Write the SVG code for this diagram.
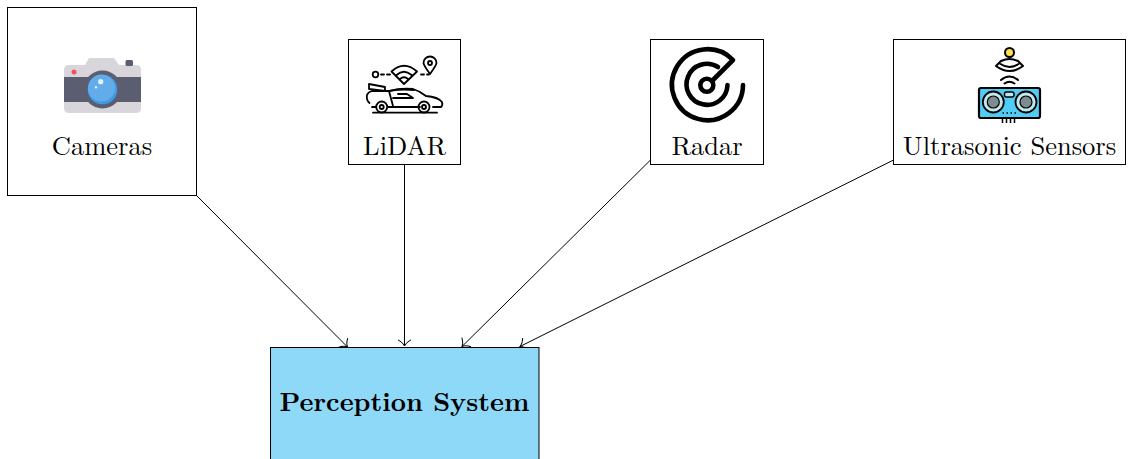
<svg xmlns="http://www.w3.org/2000/svg" width="1130" height="459" viewBox="0 0 1130 459">
<style>
.box{fill:#fff;stroke:#000;stroke-width:1}
.lbl{font-family:"Latin Modern Roman","Liberation Serif","DejaVu Serif",serif;font-size:26.500px;fill:#000;text-anchor:middle}
.c{fill:none;stroke:#000;stroke-width:1}
.i{fill:none;stroke:#000;stroke-width:1.800;stroke-linecap:round;stroke-linejoin:round}
.r{fill:none;stroke:#000;stroke-width:4.600;stroke-linecap:round;stroke-linejoin:round}
.u{fill:none;stroke:#000;stroke-width:2;stroke-linecap:round;stroke-linejoin:round}
</style>
<defs>
<marker id="a" markerUnits="userSpaceOnUse" markerWidth="14" markerHeight="14" refX="10" refY="6" orient="auto" overflow="visible">
<path d="M3.800 -.5Q6.500 4.500 10 6Q6.500 7.500 3.800 12.500" fill="none" stroke="#000" stroke-width="1"/>
</marker>
</defs>
<g id="connectors">
<line class="c" x1="196.500" y1="195.500" x2="347.500" y2="347" marker-end="url(#a)"/>
<line class="c" x1="404.500" y1="164" x2="404.500" y2="346" marker-end="url(#a)"/>
<line class="c" x1="650.500" y1="160" x2="462" y2="346.500" marker-end="url(#a)"/>
<line class="c" x1="893.500" y1="160" x2="520" y2="346.500" marker-end="url(#a)"/>
</g>
<g id="cameras">
<rect class="box" x="7.500" y="7.500" width="189" height="188"/>
<path d="M64 70Q64 65 69 65H85L89 58H114L119 65H136Q141 65 141 70V108Q141 113 136 113H69Q64 113 64 108Z" fill="#d8d6db"/>
<rect x="125.500" y="60" width="7.500" height="6" rx="1.500" fill="#5b5d70"/>
<rect x="64" y="77" width="77" height="25" fill="#5b5d70"/>
<circle cx="74" cy="72" r="2.500" fill="#f0525f"/>
<circle cx="102.500" cy="89.500" r="19" fill="#5b5d70"/>
<circle cx="102.500" cy="89.500" r="14.800" fill="#3f9be8"/>
<circle cx="101.500" cy="88" r="13.500" fill="#62ade9"/>
<circle cx="100.700" cy="81.700" r="2.600" fill="#e4f0fa"/>
<circle cx="96" cy="87.300" r="1.200" fill="#e4f0fa"/>
<text class="lbl" x="102" y="155">Cameras</text>
</g>
<g id="lidar">
<rect class="box" x="348.500" y="39.500" width="112" height="125"/>
<g class="i">
<circle cx="375.500" cy="74.500" r="2.800"/>
<path d="M381 74.500H384M387 74.500H390M421 74.500H424M427 74.500H429"/>
<path d="M391.500 71.500Q404 60 417 71.500L404 84ZM396.500 75Q404 68.500 411.500 75M400 79Q404 75.500 408 79"/>
<path d="M430 74Q423.500 65 423.500 63A6.500 6.500 0 1 1 436.500 63Q436.500 65 430 74Z"/>
<circle cx="430" cy="63" r="2"/>
<path d="M369.500 103Q366 100 367 95Q368 92 372 91L389 91Q400 88 413 89Q420 91 426 96Q438 97 442 102Q443 105 441 107H433M420 107H388M376 107H372"/>
<path d="M369 84L385 87V91L369 89Z"/>
<path d="M389 91L393 106M393 98H413L407 94H398M389 91Q400 89 414 90"/>
<path d="M373 112.700H437"/>
<circle cx="381.700" cy="107" r="5.500"/><circle cx="381.700" cy="107" r="2"/>
<circle cx="424" cy="107" r="5.500"/><circle cx="424" cy="107" r="2"/>
</g>
<text class="lbl" x="404.500" y="155">LiDAR</text>
</g>
<g id="radar">
<rect class="box" x="650.500" y="39.500" width="113" height="125"/>
<path class="r" d="M743 85A35.500 35.500 0 1 1 733 60L713 80"/>
<path class="r" d="M727.500 85A20.500 20.500 0 1 1 718 67"/>
<circle class="r" cx="706.800" cy="85.200" r="6.500"/>
<text class="lbl" x="707" y="155">Radar</text>
</g>
<g id="ultrasonic">
<rect class="box" x="893.500" y="39.500" width="232" height="125"/>
<circle cx="1009.500" cy="52.500" r="4.500" fill="#ffe14d" stroke="#000" stroke-width="2"/>
<g class="u">
<path d="M1001 61Q1009.500 57 1018 61L1023 66Q1009.500 76 996 66ZM1000.500 64Q1009.500 70 1018.500 64"/>
<path d="M1001 80Q1009.500 73 1018 80M1004.500 83.500Q1009.500 80 1014.500 83.500"/>
</g>
<rect x="979" y="88" width="61" height="30" rx="2" fill="#4fcdf5" stroke="#000" stroke-width="2.200"/>
<circle cx="993.300" cy="102" r="10.500" fill="#bfe7ee" stroke="#000" stroke-width="1.800"/>
<circle cx="993.300" cy="102" r="6" fill="#7d8c90" stroke="#000" stroke-width="1.200"/>
<circle cx="1026" cy="102" r="10.500" fill="#bfe7ee" stroke="#000" stroke-width="1.800"/>
<circle cx="1026" cy="102" r="6" fill="#7d8c90" stroke="#000" stroke-width="1.200"/>
<rect x="1004.500" y="92" width="9.500" height="5" rx="2" fill="#bfe7ee" stroke="#000" stroke-width="1.500"/>
<path d="M1002.500 113H1004M1006.500 113H1008M1010.500 113H1012M1014.500 113H1016" stroke="#000" stroke-width="1.500"/>
<path d="M1002.500 118V123M1006.500 118V123M1010.500 118V123M1014.500 118V123" stroke="#000" stroke-width="1.500"/>
<text class="lbl" x="1009.500" y="155">Ultrasonic Sensors</text>
</g>
<g id="perception">
<rect x="270.500" y="347.500" width="268.500" height="120" fill="#8ed8f8" stroke="#000" stroke-width="1"/>
<text x="404.500" y="411" font-family="'Latin Modern Roman','Liberation Serif','DejaVu Serif',serif" font-size="26.500" font-weight="bold" fill="#000" text-anchor="middle">Perception System</text>
</g>
</svg>
